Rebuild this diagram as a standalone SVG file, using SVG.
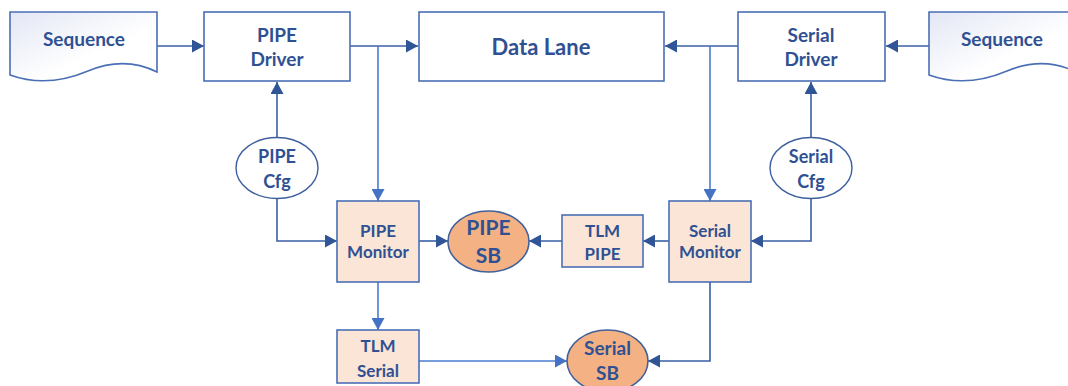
<svg xmlns="http://www.w3.org/2000/svg" width="1068" height="386" viewBox="0 0 1068 386">
<style>
.box{fill:#ffffff;stroke:#4a6fb5;stroke-width:1.6}
.peach{fill:#fbe5d6;stroke:#4a6fb5;stroke-width:1.6}
.sb{fill:#f4b183;stroke:#41619c;stroke-width:1.6}
.cfg{fill:#ffffff;stroke:#3d5f9e;stroke-width:1.4}
.seq{fill:url(#seqGrad);stroke:#4a6fb5;stroke-width:1.6}
text{font-family:Lato,"Liberation Sans",sans-serif;font-weight:700;fill:#2f5193;text-anchor:middle;font-size:17px}
.seqt{font-size:19px}
.mid{font-size:19px}
.cf{font-size:18px}
.big{font-size:21px}
.dl{font-size:22px}
.dk{fill:none;stroke:#3a5fa5;stroke-width:1.6;marker-end:url(#arrD)}
.lt{fill:none;stroke:#4a7bd0;stroke-width:1.6;marker-end:url(#arrL)}
</style>
<defs>
<linearGradient id="seqGrad" x1="0" y1="0" x2="1" y2="1">
<stop offset="0" stop-color="#e3e7f5"/>
<stop offset="0.6" stop-color="#ffffff"/>
</linearGradient>
<marker id="arrD" markerUnits="userSpaceOnUse" markerWidth="13" markerHeight="13" refX="12" refY="6.5" orient="auto">
<path d="M0,0 L12,6.5 L0,13 Z" fill="#2f5597"/>
</marker>
<marker id="arrL" markerUnits="userSpaceOnUse" markerWidth="13" markerHeight="13" refX="12" refY="6.5" orient="auto">
<path d="M0,0 L12,6.5 L0,13 Z" fill="#4472c4"/>
</marker>
</defs>
<g id="connectors">
<path class="dk" d="M157,46 H204"/>
<path class="dk" d="M350,46 H418"/>
<path class="dk" d="M738,46 H665"/>
<path class="dk" d="M929,46 H886"/>
<path class="dk" d="M277,138 V82"/>
<path class="dk" d="M811,138 V82"/>
<path class="dk" d="M277,199 V241 H337"/>
<path class="dk" d="M811,199 V241 H751"/>
<path class="dk" d="M419,241 H448"/>
<path class="dk" d="M562,241 H529"/>
<path class="dk" d="M669,241 H643"/>
<path class="dk" d="M710,282 V361 H648"/>
<path class="lt" d="M378,46 V201"/>
<path class="lt" d="M710,46 V201"/>
<path class="lt" d="M378,282 V330"/>
<path class="lt" d="M419,361 H567"/>
</g>
<g id="seq-left">
<path class="seq" d="M10,12 H157 V72 C135,61 112,61 88,71 C62,82 35,84 10,75 Z"/>
<text class="seqt" x="84" y="46">Sequence</text>
</g>
<g id="pipe-driver">
<rect class="box" x="204" y="12" width="146" height="69"/>
<text class="mid" x="277" y="42">PIPE</text>
<text class="mid" x="277" y="66">Driver</text>
</g>
<g id="data-lane">
<rect class="box" x="419" y="12" width="245" height="69"/>
<text class="dl" x="541" y="55">Data Lane</text>
</g>
<g id="serial-driver">
<rect class="box" x="738" y="12" width="147" height="69"/>
<text class="mid" x="811" y="42">Serial</text>
<text class="mid" x="811" y="66">Driver</text>
</g>
<g id="seq-right">
<path class="seq" d="M929,12 H1076 V72 C1054,61 1031,61 1007,71 C981,82 954,84 929,75 Z"/>
<text class="seqt" x="1002" y="46">Sequence</text>
</g>
<g id="pipe-cfg">
<ellipse class="cfg" cx="277" cy="168" rx="41" ry="30.5"/>
<text class="cf" x="277" y="163">PIPE</text>
<text class="cf" x="277" y="188">Cfg</text>
</g>
<g id="serial-cfg">
<ellipse class="cfg" cx="811" cy="168" rx="41" ry="30.5"/>
<text class="cf" x="811" y="163">Serial</text>
<text class="cf" x="811" y="188">Cfg</text>
</g>
<g id="pipe-monitor">
<rect class="peach" x="337" y="201" width="82" height="81"/>
<text x="378" y="237">PIPE</text>
<text x="378" y="258">Monitor</text>
</g>
<g id="pipe-sb">
<ellipse class="sb" cx="488.5" cy="241.5" rx="40.5" ry="30.5"/>
<text class="big" x="488.5" y="235">PIPE</text>
<text class="big" x="488.5" y="263">SB</text>
</g>
<g id="tlm-pipe">
<rect class="peach" x="562" y="215" width="81" height="52"/>
<text x="602.5" y="237">TLM</text>
<text x="602.5" y="260">PIPE</text>
</g>
<g id="serial-monitor">
<rect class="peach" x="669" y="201" width="82" height="81"/>
<text x="710" y="237">Serial</text>
<text x="710" y="258">Monitor</text>
</g>
<g id="tlm-serial">
<rect class="peach" x="337" y="330" width="82" height="53"/>
<text x="378" y="352">TLM</text>
<text x="378" y="377">Serial</text>
</g>
<g id="serial-sb">
<ellipse class="sb" cx="607.5" cy="361" rx="40.5" ry="31"/>
<text class="mid" x="607.5" y="355">Serial</text>
<text class="mid" x="607.5" y="380">SB</text>
</g>
</svg>
